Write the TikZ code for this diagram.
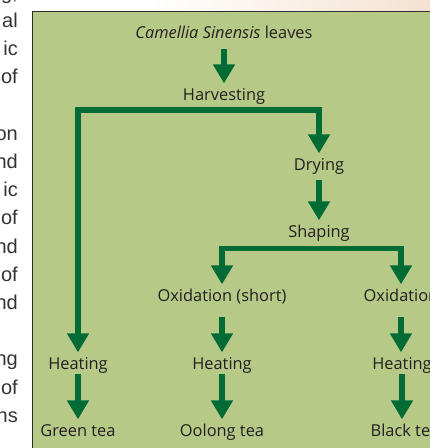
\documentclass[tikz,border=0pt]{standalone}
\usepackage{fontspec}
\setmainfont{Open Sans}
\newfontfamily\pagefont{Liberation Sans}
\usepackage{xcolor}
\usetikzlibrary{arrows.meta}
\definecolor{boxgreen}{HTML}{B6C987}
\definecolor{boxedge}{HTML}{2E2E2E}
\definecolor{flowgreen}{HTML}{006B35}
\definecolor{textdark}{HTML}{231F20}
\definecolor{pagegray}{HTML}{333333}
\definecolor{cream}{HTML}{FBF2E2}
\definecolor{peach}{HTML}{F4E2D1}

\begin{document}
\begin{tikzpicture}[x=1pt, y=-1pt,
  stage/.style={anchor=base, text=textdark, font=\fontsize{16.4}{20}\selectfont,
    text height=12pt, text depth=4pt, inner xsep=2pt, inner ysep=3pt},
  flow/.style={draw=flowgreen, line width=5.5pt, -{Triangle[width=21pt,length=19pt]},
    shorten <=3pt, shorten >=1.5pt},
  margin/.style={anchor=base east, text=pagegray, font=\pagefont\fontsize{20}{24}\selectfont,
    inner sep=0pt}]
\useasboundingbox (0,0) rectangle (430,448);
\clip (0,0) rectangle (430,448);
\fill[white] (0,0) rectangle (430,448);
\shade[left color=white, middle color=cream, right color=peach] (150,0) rectangle (430,12);
\draw[boxedge, fill=boxgreen, line width=1.2pt] (32.5,11.8) rectangle (450,470);
\foreach \word/\row in {{g,}/0, al/1, ic/2, of/3, on/5, nd/6, ic/7, of/8, nd/9, of/10, nd/11, ng/13, of/14, ns/15}
  \node[margin] (line\row) at (18, {27.5+28.2*(\row-1)}) {\word};
\node[stage] (leaves) at (224,38) {\textit{Camellia Sinensis} leaves};
\node[stage] (harvest) at (224,100) {Harvesting};
\node[stage] (dry) at (319,170) {Drying};
\node[stage] (shape) at (319,237) {Shaping};
\node[stage] (oxshort) at (222,301) {Oxidation (short)};
\node[stage] (oxlong) at (401,301) {Oxidation};
\node[stage] (heatgreen) at (78,369) {Heating};
\node[stage] (heatoolong) at (222,369) {Heating};
\node[stage] (heatblack) at (402,369) {Heating};
\node[stage] (green) at (78,436) {Green tea};
\node[stage] (oolong) at (222,436) {Oolong tea};
\node[stage] (black) at (405,436) {Black tea};
\coordinate (split1) at (224,110);
\coordinate (split2) at (319,248.5);
\draw[flow, shorten <=4pt] (leaves.south) -- (harvest.north);
\draw[flow, shorten <=0pt] (split1) -| (heatgreen);
\draw[flow, shorten <=0pt] (split1) -| (dry);
\draw[flow] (dry.south) -- (shape.north);
\draw[flow, shorten <=0pt] (split2) -| (oxshort);
\draw[flow, shorten <=0pt] (split2) -| (oxlong);
\draw[flow, shorten <=9pt] (oxshort.south) -- (heatoolong.north);
\draw[flow, shorten <=9pt] (oxlong.south) -- (oxlong.south |- heatblack.north);
\draw[flow, shorten <=-2pt] (heatgreen.south) -- (green.north);
\draw[flow, shorten <=-2pt] (heatoolong.south) -- (oolong.north);
\draw[flow, shorten <=-2pt] (heatblack.south) -- (heatblack.south |- black.north);
\end{tikzpicture}
\end{document}
